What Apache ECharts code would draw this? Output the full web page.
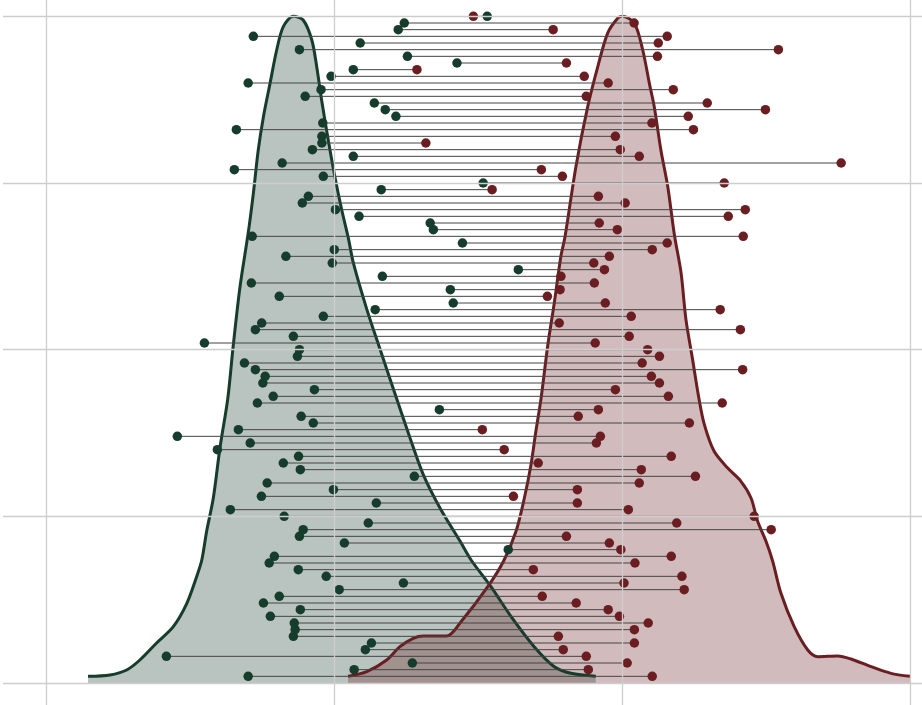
<!DOCTYPE html>
<html lang="en">
<head>
    <meta charset="UTF-8">
    <title>Dumbbell density</title>
    <script src="https://cdn.jsdelivr.net/npm/echarts@6/dist/echarts.min.js"></script>
    <style>
        html, body { margin: 0; padding: 0; background: #fff; }
        #main { width: 922px; height: 705px; }
    </style>
</head>
<body>
<div id="main"></div>
<script>
    // one row per pair, bottom row first (row 1 .. row 100)
    var greenX = [
        7.02, 10.70, 12.72, 4.18, 11.09, 11.30, 8.59, 8.65, 8.62, 7.79,
        8.83, 7.55, 8.10, 10.18, 12.41, 9.73, 8.76, 7.75, 7.93, 16.05,
        10.36, 8.80, 8.93, 11.19, 8.27, 6.40, 11.47, 7.48, 9.98, 7.68,
        12.79, 8.83, 8.24, 8.77, 5.95, 7.09, 4.56, 6.68, 9.28, 8.86,
        13.66, 7.34, 7.89, 9.32, 7.53, 7.61, 7.27, 6.89, 8.73, 8.80,
        5.50, 8.59, 7.27, 7.49, 9.63, 11.43, 14.14, 8.10, 14.04, 7.13,
        11.68, 16.40, 9.94, 8.33, 10.01, 14.46, 7.16, 13.45, 13.34, 10.87,
        10.05, 8.90, 9.11, 11.64, 15.18, 9.63, 6.54, 8.20, 10.67, 9.25,
        9.58, 9.58, 6.61, 9.61, 12.15, 11.78, 11.40, 9.00, 9.55, 7.02,
        9.90, 10.67, 14.27, 12.55, 8.80, 10.91, 7.20, 12.23, 12.44, 15.32
    ];
    var redX = [
        21.05, 18.83, 20.18, 18.76, 17.96, 20.43, 17.79, 20.43, 20.91, 19.91,
        19.52, 18.41, 17.23, 22.16, 20.07, 22.08, 16.92, 20.45, 21.71, 19.96,
        19.56, 18.07, 25.18, 21.90, 24.59, 20.22, 18.45, 16.23, 18.45, 20.60,
        22.55, 20.67, 17.09, 21.71, 15.91, 19.11, 19.25, 15.15, 22.34, 18.48,
        19.18, 23.48, 21.61, 19.77, 21.30, 21.02, 24.19, 20.70, 21.30, 20.89,
        19.07, 20.25, 24.11, 17.82, 20.32, 23.41, 19.42, 17.41, 17.85, 19.04,
        17.88, 19.39, 19.02, 19.56, 21.05, 21.57, 24.21, 19.84, 19.21, 23.69,
        24.28, 20.11, 19.18, 15.49, 23.55, 17.93, 17.20, 27.61, 20.60, 19.94,
        13.19, 19.77, 22.48, 21.04, 22.30, 24.98, 22.96, 18.76, 21.78, 19.52,
        18.69, 12.88, 18.07, 21.23, 25.43, 21.26, 21.57, 17.61, 20.42, 14.84
    ];

    // density outlines, scaled to the row axis (peak = row 100, tails = row 1)
    var greenCurveX = [1.46, 2.22, 2.80, 3.26, 3.84, 4.42, 4.89, 5.23, 5.41, 5.58, 5.81, 6.04, 6.31, 6.50,
        6.74, 7.02, 7.20, 7.37, 7.55, 7.78, 8.01, 8.24, 8.59, 8.93, 9.23, 9.40, 9.57, 9.80, 10.03,
        10.27, 10.50, 10.67, 11.14, 11.60, 12.18, 12.64, 13.10, 13.68, 14.38, 14.76, 15.45, 16.15,
        16.95, 17.65, 18.23, 19.09];
    var greenCurveY = [1.0, 1.2, 1.95, 3.45, 6.0, 8.45, 11.95, 15.95, 18.45, 22.8, 27.75, 35.25, 42.6, 50.55,
        59.55, 67.45, 73.45, 79.95, 84.95, 89.95, 94.95, 98.45, 100, 99.45, 96.45, 92.45, 87.45, 81.45, 75.95,
        70.95, 66.7, 63.05, 56.05, 50.05, 42.6, 36.75, 31.25, 26.25, 21.25, 18.45, 14.45, 9.95,
        5.45, 2.45, 1.45, 1.0];
    var redCurveX = [10.49, 11.14, 11.83, 12.29, 12.75, 13.10, 13.91, 14.41, 15.34, 15.89, 16.32, 16.61,
        16.84, 17.01, 17.19, 17.42, 17.65, 17.88, 18.02, 18.40, 18.81, 19.16, 19.50, 19.85, 20.01, 20.43,
        20.72, 20.95, 21.12, 21.35, 21.59, 21.82, 22.05, 22.22, 22.45, 22.67, 22.86, 23.20, 23.67, 24.13,
        24.48, 24.71, 25.00, 25.23, 25.52, 25.98, 26.45, 26.80, 27.49, 27.95, 28.65, 29.34, 30.00];
    var redCurveY = [1.0, 1.7, 3.45, 5.45, 6.7, 7.05, 7.05, 9.2, 14.45, 18.3, 22.75, 27.75,
        32.75, 37.75, 42.7, 50.55, 57.05, 64.05, 66.9, 77.45, 86.45, 92.45, 97.45, 99.7, 100, 98.95,
        94.95, 89.95, 86.45, 79.95, 74.45, 67.2, 61.55, 54.55, 48.55, 42.7, 38.75, 34.75, 32.25, 30.25,
        27.75, 24.25, 21.25, 18.3, 13.45, 8.45, 4.95, 3.95, 4.05, 3.6, 2.45, 1.45, 1.0];

    var gridX = [0, 10, 20, 30];
    var gridY = [0, 25, 50, 75, 100];

    var GREEN = '#163c2d';
    var RED = '#6a1e22';

    function zipXY(xs, ys) {
        return xs.map(function (x, i) { return [x, ys[i]]; });
    }

    var segData = greenX.map(function (g, i) { return [g, redX[i], i + 1]; });
    var greenPts = greenX.map(function (g, i) { return [g, i + 1]; });
    var redPts = redX.map(function (r, i) { return [r, i + 1]; });

    var gridLines = [];
    gridX.forEach(function (v) { gridLines.push({xAxis: v}); });
    gridY.forEach(function (v) { gridLines.push({yAxis: v}); });

    var chart = echarts.init(document.getElementById('main'), null, {renderer: 'canvas'});

    var option = {
        backgroundColor: '#ffffff',
        animation: false,
        grid: {left: 3, right: 0, top: 0, bottom: 0},
        xAxis: {
            type: 'value',
            min: -1.493,
            max: 30.417,
            show: false,
            splitLine: {show: false}
        },
        yAxis: {
            type: 'value',
            min: -3.3,
            max: 102.45,
            show: false,
            splitLine: {show: false}
        },
        series: [
            {
                // panel grid lines
                type: 'line',
                data: [],
                z: 0,
                markLine: {
                    silent: true,
                    symbol: ['none', 'none'],
                    label: {show: false},
                    lineStyle: {color: '#cdcdcd', width: 1.3, type: 'solid'},
                    data: gridLines
                }
            },
            {
                type: 'line',
                data: zipXY(greenCurveX, greenCurveY),
                smooth: 0.3,
                showSymbol: false,
                z: 1,
                lineStyle: {color: GREEN, width: 3},
                areaStyle: {color: 'rgba(22,60,45,0.3)', opacity: 1}
            },
            {
                type: 'line',
                data: zipXY(redCurveX, redCurveY),
                smooth: 0.3,
                showSymbol: false,
                z: 1,
                lineStyle: {color: RED, width: 3},
                areaStyle: {color: 'rgba(106,30,34,0.3)', opacity: 1}
            },
            {
                type: 'custom',
                z: 2,
                data: segData,
                encode: {x: [0, 1], y: 2},
                renderItem: function (params, api) {
                    var a = api.coord([api.value(0), api.value(2)]);
                    var b = api.coord([api.value(1), api.value(2)]);
                    return {
                        type: 'line',
                        shape: {x1: a[0], y1: a[1], x2: b[0], y2: b[1]},
                        style: {stroke: '#444444', lineWidth: 1}
                    };
                }
            },
            {
                type: 'scatter',
                data: greenPts,
                symbolSize: 9.5,
                z: 3,
                itemStyle: {color: GREEN, opacity: 1}
            },
            {
                type: 'scatter',
                data: redPts,
                symbolSize: 9.5,
                z: 3,
                itemStyle: {color: RED, opacity: 1}
            }
        ]
    };

    chart.setOption(option);
</script>
</body>
</html>
